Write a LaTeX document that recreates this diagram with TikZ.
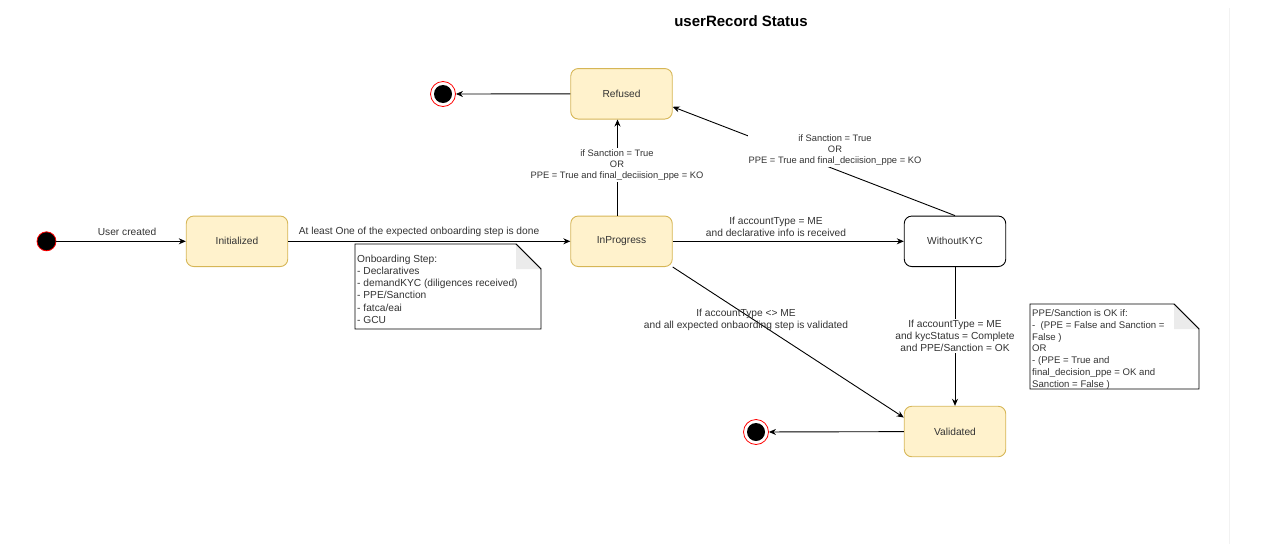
\documentclass[tikz,border=0pt]{standalone}
\usepackage{fontspec}
\setmainfont{Liberation Sans}
\usetikzlibrary{arrows.meta}
\definecolor{statefill}{HTML}{FFF2CC}
\definecolor{stateline}{HTML}{D6B656}
\definecolor{inkgray}{HTML}{333333}
\definecolor{foldgray}{HTML}{EBEBEB}
\definecolor{rulegray}{HTML}{F2F2F2}
\definecolor{endred}{HTML}{FF0000}

\begin{document}
\begin{tikzpicture}[x=1pt,y=-1pt,
  font=\fontsize{10.2}{12.3}\selectfont,
  every node/.style={text=inkgray},
  smalltext/.style={font=\fontsize{9.35}{11.2}\selectfont},
  state/.style={draw=stateline, fill=statefill, rounded corners=7.5pt,
    minimum width=101.5pt, minimum height=50.5pt, inner sep=0pt, line width=0.9pt},
  plainstate/.style={state, draw=black, fill=white},
  startdot/.style={circle, draw=endred, fill=black, minimum size=19pt, inner sep=0pt, line width=0.8pt},
  enddot/.style={circle, draw=endred, fill=white, minimum size=25pt, inner sep=0pt, line width=0.8pt,
    path picture={\fill[black] (path picture bounding box.center) circle[radius=9pt];}},
  flow/.style={draw=black, line width=0.9pt, -{Stealth[length=7pt,width=6pt]}},
  lbl/.style={align=center, inner sep=1pt},
  lblbg/.style={lbl, fill=white},
  notetext/.style={align=left, anchor=north west, inner sep=0pt},
  noteline/.style={draw=black, fill=white, line width=0.9pt},
  notefold/.style={fill=foldgray}
]
\useasboundingbox (0,0) rectangle (1268,544);

% page edge rule on the right
\draw[rulegray, line width=0.8pt] (1229,8) -- (1229,544);

% title
\node[font=\bfseries\fontsize{15}{18}\selectfont, text=black] (title) at (741,21) {userRecord Status};

% states
\node[startdot] (start) at (46.5,241.3) {};
\node[state] (init) at (237,241.3) {Initialized};
\node[state] (inprog) at (621.5,241.3) {InProgress};
\node[state] (refused) at (621.5,93.8) {Refused};
\node[plainstate] (wkyc) at (955,241.3) {WithoutKYC};
\node[state] (valid) at (955,431.5) {Validated};
\node[enddot] (endA) at (443,94) {};
\node[enddot] (endB) at (756,432) {};

% transitions
\draw[flow] (start) -- (init);
\node[lbl] (lblUser) at (127,232) {User created};

\draw[flow] (init) -- (inprog);
\node[lbl] (lblStep) at (419,232) {At least One of the expected onboarding step is done};

\draw[flow] (inprog) -- (wkyc);
\node[lbl] (lblMe) at (776,227) {If accountType = ME\\and declarative info is received};

\draw[flow] ([xshift=-4pt]inprog.north) -- ([xshift=-4pt]refused.south);
\node[lblbg, smalltext] (lblRefP) at (617,165) {if Sanction = True\\OR\\PPE = True and final\_deciision\_ppe = KO};

\draw[flow] (wkyc.north) -- ([yshift=-13pt]refused.east);
\node[lblbg, smalltext] (lblRefW) at (835,150) {if Sanction = True\\OR\\PPE = True and final\_deciision\_ppe = KO};

\draw[flow] (refused) -- (endA);

\draw[flow] (inprog.south east) -- ([yshift=14pt]valid.west);
\node[lbl] (lblNotMe) at (746,320) {If accountType <> ME\\and all expected onbaording step is validated};

\draw[flow] (wkyc) -- (valid);
\node[lblbg] (lblKyc) at (955,336) {If accountType = ME\\and kycStatus = Complete\\and PPE/Sanction = OK};

\draw[flow] (valid) -- (endB);

% note: onboarding steps
\draw[noteline] (355,244) -- (516,244) -- (541,269) -- (541,329) -- (355,329) -- cycle;
\fill[notefold] (516,244.5) -- (540.5,269) -- (516,269) -- cycle;
\draw[line width=0.9pt] (516,244) -- (541,269);
\node[notetext] (noteSteps) at (357,254.5) {Onboarding Step:\\- Declaratives\\- demandKYC (diligences received)\\- PPE/Sanction\\- fatca/eai\\- GCU};

% note: PPE/Sanction rule
\draw[noteline] (1030,304) -- (1174,304) -- (1199,329) -- (1199,389) -- (1030,389) -- cycle;
\fill[notefold] (1174,304.5) -- (1198.5,329) -- (1174,329) -- cycle;
\draw[line width=0.9pt] (1174,304) -- (1199,329);
\node[notetext, font=\fontsize{9.6}{11.75}\selectfont] (noteRule) at (1032,309.5) {PPE/Sanction is OK if:\\-\ \ (PPE = False and Sanction =\\False )\\OR\\- (PPE = True and\\final\_decision\_ppe = OK and\\Sanction = False )};
\end{tikzpicture}
\end{document}
